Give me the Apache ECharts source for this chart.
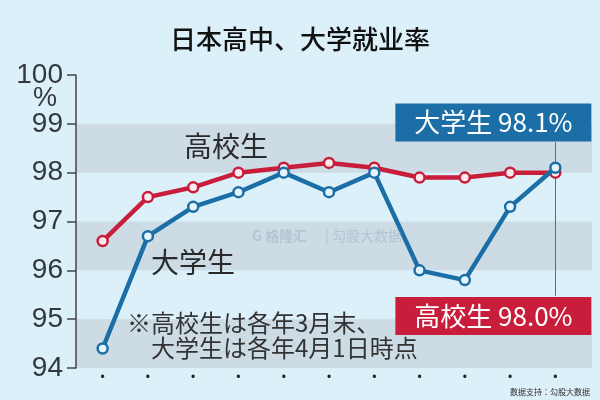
<!DOCTYPE html>
<html><head><meta charset="utf-8">
<script src="https://cdn.jsdelivr.net/npm/echarts@6/dist/echarts.min.js"></script>
<style>html,body{margin:0;padding:0;background:#dcf0fa}#c{width:600px;height:400px}</style>
</head><body><div id="c"></div>
<script>
const years = ['2014','2015','2016','2017','2018','2019','2020','2021','2022','2023','2024'];
const highSchool = [96.6, 97.5, 97.7, 98.0, 98.1, 98.2, 98.1, 97.9, 97.9, 98.0, 98.0];
const university = [94.4, 96.7, 97.3, 97.6, 98.0, 97.6, 98.0, 96.0, 95.8, 97.3, 98.1];
const yTicks = [94, 95, 96, 97, 98, 99, 100];

const JP = '"Noto Sans CJK JP","Noto Sans CJK SC",sans-serif';
const NUM = '"Liberation Sans Narrow","Liberation Sans",Arial,sans-serif';
const RED = '#c81e3c', BLUE = '#1b6ea6';
const last = years.length - 1;

function boxLabel(text, color, pos, dist) {
  return {
    show: true, formatter: text, position: pos, distance: dist, offset: [-62, 0],
    color: '#fff', backgroundColor: color, fontFamily: JP, fontSize: 26,
    width: 188, align: 'center', lineHeight: 32, padding: [3, 4]
  };
}

const chart = echarts.init(document.getElementById('c'), null, {renderer: 'canvas'});
chart.setOption({
  backgroundColor: '#dcf0fa',
  animation: false,
  grid: [
    {left: 76, top: 75, right: 8, bottom: 32},
    {left: 80, top: 75, width: 498, bottom: 32}
  ],
  xAxis: [
    {gridIndex: 0, type: 'category', data: years, show: false},
    {gridIndex: 1, type: 'category', data: years, boundaryGap: true,
     axisLine: {show: false}, axisTick: {show: false},
     axisLabel: {formatter: () => '•', color: '#222', fontSize: 12, margin: 4}}
  ],
  yAxis: [
    {gridIndex: 0, type: 'value', min: yTicks[0], max: yTicks[yTicks.length - 1], interval: 1,
     axisLine: {show: true, lineStyle: {color: '#444', width: 1.5}},
     axisTick: {show: true, length: 9, lineStyle: {color: '#444', width: 1.5}},
     axisLabel: {color: '#33383d', fontSize: 28, fontFamily: NUM, margin: 13},
     splitLine: {show: false},
     splitArea: {show: true, areaStyle: {color: ['#ccdbe4', 'rgba(0,0,0,0)']}}},
    {gridIndex: 1, type: 'value', min: yTicks[0], max: yTicks[yTicks.length - 1], interval: 1, show: false,
     splitLine: {show: false}}
  ],
  series: [
    {
      type: 'line', name: '高校生', xAxisIndex: 1, yAxisIndex: 1, z: 3,
      data: highSchool.map((v, i) => i === last ? {value: v, label: boxLabel('高校生 98.0%', RED, 'bottom', 118)} : v),
      lineStyle: {color: RED, width: 4.5}, itemStyle: {color: '#fbe9ee', borderColor: RED, borderWidth: 2.5},
      symbol: 'circle', symbolSize: 10, showAllSymbol: true
    },
    {
      type: 'line', name: '大学生', xAxisIndex: 1, yAxisIndex: 1, z: 4,
      data: university.map((v, i) => i === last ? {value: v, label: boxLabel('大学生 98.1%', BLUE, 'top', 20)} : v),
      lineStyle: {color: BLUE, width: 4.5}, itemStyle: {color: '#e6f4fb', borderColor: BLUE, borderWidth: 2.5},
      symbol: 'circle', symbolSize: 10, showAllSymbol: true,
      markLine: {
        silent: true, symbol: 'none', label: {show: false}, z: 1,
        lineStyle: {color: '#6a6a6a', width: 1, type: 'solid'},
        data: [[{coord: [years[last], 98.62]}, {coord: [years[last], 95.48]}]]
      }
    }
  ],
  graphic: [
    {type: 'text', z: 100, left: 'center', top: 26, style: {text: '日本高中、大学就业率', font: '500 26px ' + JP, fill: '#111'}},
    {type: 'text', z: 100, x: 33, y: 85, style: {text: '%', font: '27px ' + NUM, fill: '#33383d'}},
    {type: 'text', z: 100, x: 184, y: 132, style: {text: '高校生', font: '28px ' + JP, fill: '#2a2a2a'}},
    {type: 'text', z: 100, x: 151, y: 248, style: {text: '大学生', font: '28px ' + JP, fill: '#2a2a2a'}},
    {type: 'text', z: 100, x: 127, y: 311, style: {text: '※高校生は各年3月末、', font: '24px ' + JP, fill: '#333'}},
    {type: 'text', z: 100, x: 151, y: 336, style: {text: '大学生は各年4月1日時点', font: '24px ' + JP, fill: '#333'}},
    {type: 'text', z: 100, x: 252, y: 229, style: {text: 'G 格隆汇', font: 'bold 14px ' + JP, fill: 'rgba(120,150,180,0.3)'}},
    {type: 'text', z: 100, x: 325, y: 229, style: {text: '| 勾股大数据', font: '14px ' + JP, fill: 'rgba(120,150,180,0.3)'}},
    {type: 'text', z: 100, right: 10, bottom: 4, style: {text: '数据支持：勾股大数据', font: '8px ' + JP, fill: '#333'}}
  ]
});
</script></body></html>
